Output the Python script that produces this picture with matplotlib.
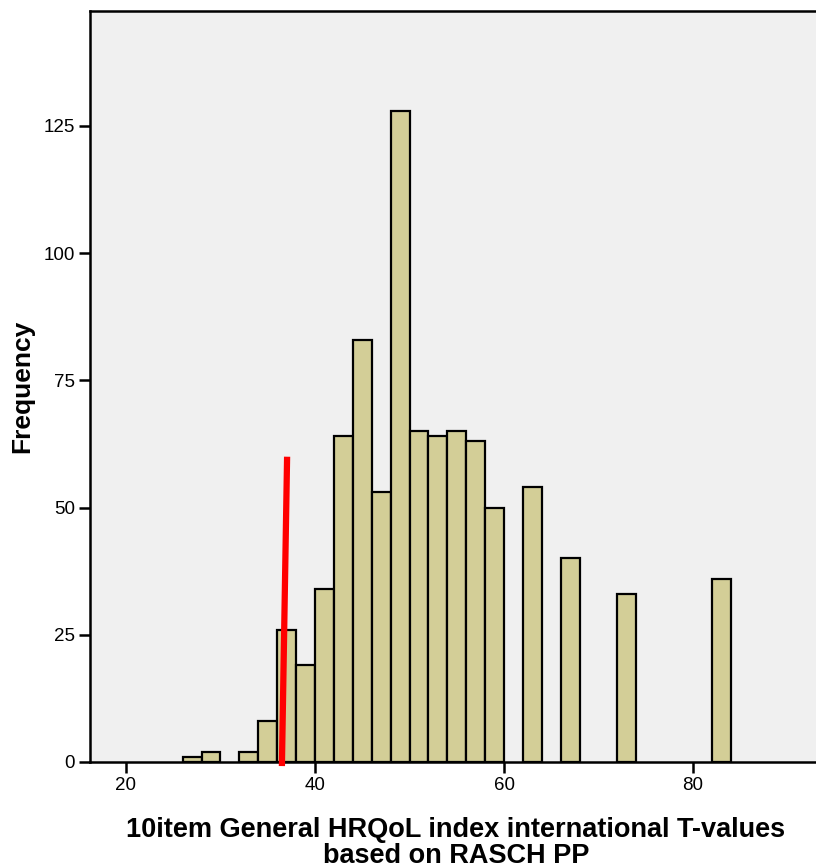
import numpy as np
import matplotlib
matplotlib.use("Agg")
from matplotlib import pyplot as plt
from matplotlib import font_manager


# histogram bins (left edges, width 2) and counts
bin_left = [26, 28, 30, 32, 34, 36, 38, 40, 42, 44, 46, 48, 50, 52, 54, 56, 58,
            60, 62, 64, 66, 68, 70, 72, 74, 76, 78, 80, 82]
counts = [1, 2, 0, 2, 8, 26, 19, 34, 64, 83, 53, 128, 65, 64, 65, 63, 50,
          0, 54, 0, 40, 0, 0, 33, 0, 0, 0, 0, 36]
bin_width = 2

# red marker line drawn over the histogram
red_x = [36.5, 37.05]
red_y = [-0.8, 60]

x_ticks = [20, 40, 60, 80]
y_ticks = [0, 25, 50, 75, 100, 125]

xlabel = "10item General HRQoL index international T-values\nbased on RASCH PP"
ylabel = "Frequency"


def pick_font(names):
  have = {f.name for f in font_manager.fontManager.ttflist}
  for n in names:
    if n in have:
      return n
  return "DejaVu Sans"


def main():
  base = pick_font(["Liberation Sans", "Arial"])
  narrow = pick_font(["Liberation Sans Narrow", "Liberation Sans"])
  matplotlib.rc('font', family=base, size=13)

  fig = plt.figure(figsize=(8.16, 8.65), dpi=100)
  ax = fig.add_axes([90 / 816, 103 / 865, 726 / 816, 751 / 865])
  ax.set_facecolor("#f0f0f0")

  left = np.array(bin_left)
  h = np.array(counts)
  keep = h > 0
  ax.bar(left[keep], h[keep], width=bin_width, align='edge',
         color="#d3ce97", edgecolor="black", linewidth=1.6, zorder=2)

  ax.plot(red_x, red_y, color="#ff0000", linewidth=4.5, zorder=3,
          clip_on=False, solid_capstyle='butt')

  ax.set_xlim(16.2, 93.0)
  ax.set_ylim(0, 147.6)
  ax.set_xticks(x_ticks)
  ax.set_yticks(y_ticks)
  ax.tick_params(direction='out', length=8, width=1.8, colors='black',
                 labelsize=13.5, pad=3)

  for side in ['left', 'bottom', 'top']:
    ax.spines[side].set_linewidth(1.8)
  ax.spines['right'].set_visible(False)

  ax.set_xlabel(xlabel, fontsize=19.5, fontweight='bold', family=narrow,
                linespacing=1.0)
  ax.xaxis.set_label_coords(0.504, -0.073)

  # y label placed in figure pixels so it is not pushed off the left edge
  fig.text(22 / 816, 1 - 386 / 865, ylabel, rotation=90, ha='center',
           va='center', fontsize=19, fontweight='bold')

  fig.savefig("out.png", dpi=100)


if __name__ == '__main__':
  main()
